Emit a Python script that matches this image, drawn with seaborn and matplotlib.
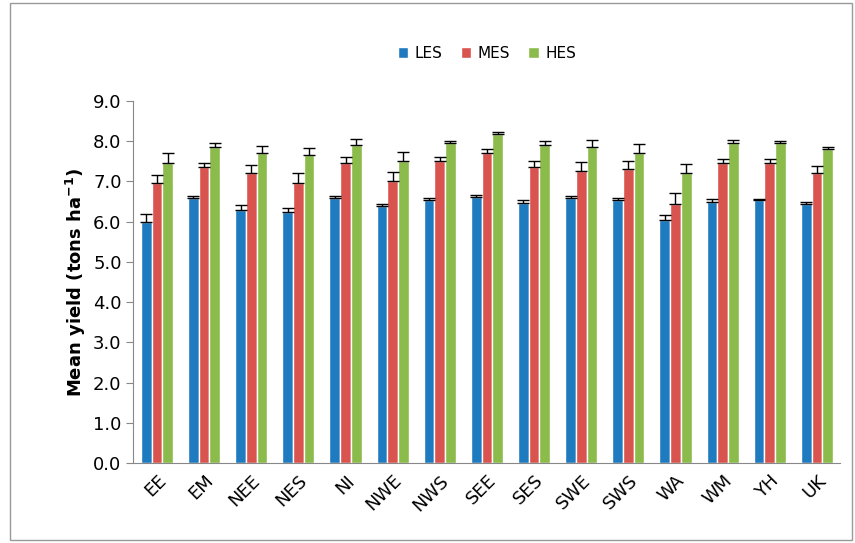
import numpy as np
import pandas as pd
import seaborn as sns
import matplotlib.pyplot as plt
from matplotlib.patches import Rectangle

regions = ["EE", "EM", "NEE", "NES", "NI", "NWE", "NWS", "SEE", "SES", "SWE", "SWS", "WA", "WM", "YH", "UK"]
les = [6.00, 6.60, 6.30, 6.25, 6.60, 6.40, 6.55, 6.62, 6.47, 6.60, 6.55, 6.05, 6.50, 6.55, 6.45]
mes = [6.95, 7.35, 7.20, 6.95, 7.45, 7.00, 7.50, 7.72, 7.35, 7.25, 7.30, 6.45, 7.45, 7.45, 7.20]
hes = [7.45, 7.85, 7.70, 7.65, 7.90, 7.50, 7.95, 8.18, 7.90, 7.85, 7.70, 7.20, 7.95, 7.95, 7.80]
les_err = [0.20, 0.05, 0.12, 0.10, 0.05, 0.05, 0.05, 0.05, 0.08, 0.05, 0.05, 0.12, 0.07, 0.02, 0.05]
mes_err = [0.20, 0.10, 0.22, 0.27, 0.15, 0.23, 0.10, 0.08, 0.15, 0.23, 0.20, 0.27, 0.10, 0.10, 0.18]
hes_err = [0.25, 0.10, 0.18, 0.18, 0.15, 0.23, 0.05, 0.05, 0.10, 0.18, 0.23, 0.23, 0.08, 0.05, 0.05]

df = pd.DataFrame({
    "Region": regions * 3,
    "Group": ["LES"] * 15 + ["MES"] * 15 + ["HES"] * 15,
    "Yield": les + mes + hes,
})
errs = les_err + mes_err + hes_err

sns.set_style("white")
plt.rcParams["text.color"] = "black"
plt.rcParams["xtick.color"] = "black"
plt.rcParams["ytick.color"] = "black"
plt.rcParams["axes.labelcolor"] = "black"
fig = plt.figure(figsize=(8.55, 5.43), dpi=100)
ax = fig.add_axes([0.156, 0.147, 0.827, 0.667])
colors = ["#1f7bbf", "#d9534f", "#8bbb4a"]
sns.barplot(data=df, x="Region", y="Yield", hue="Group", palette=colors,
            width=0.68, ax=ax, saturation=1)

# error bars (upper only)
bars = [p for p in ax.patches if p.get_height() > 0]
for p, e in zip(bars, errs):
    xc = p.get_x() + p.get_width() / 2
    ax.errorbar(xc, p.get_height(), yerr=[[0], [e]], fmt="none", ecolor="black",
                elinewidth=1, capsize=4, capthick=1)

ax.set_ylim(0, 9)
ax.set_yticks(np.arange(0, 9.1, 1))
ax.set_yticklabels([f"{v:.1f}" for v in np.arange(0, 9.1, 1)], fontsize=13)
ax.set_xlim(-0.5, len(regions) - 0.5)
ax.set_xticks(np.arange(len(regions)))
ax.set_xticklabels(regions, rotation=45, ha="right", rotation_mode="anchor", fontsize=13)
ax.tick_params(axis="x", length=0, pad=6)
ax.set_xticks(np.arange(len(regions) + 1) - 0.5, minor=True)
ax.tick_params(axis="x", which="minor", length=6, color="#888888", direction="out")
ax.tick_params(axis="y", length=5, color="#888888", direction="out", left=True)
ax.set_xlabel("")
ax.set_ylabel("Mean yield (tons ha$^{\\mathbf{-1}}$)", fontsize=13, fontweight="bold")
for s in ["top", "right"]:
    ax.spines[s].set_visible(False)
for s in ["left", "bottom"]:
    ax.spines[s].set_color("#888888")

ax.legend(loc="upper center", bbox_to_anchor=(0.5, 1.19), ncol=3, frameon=False,
          fontsize=11, handlelength=0.7, handleheight=0.7, columnspacing=1.2, handletextpad=0.4)

fig.patches.append(Rectangle((0.012, 0.005), 0.985, 0.99, transform=fig.transFigure,
                             fill=False, edgecolor="#999999", linewidth=1))
fig.savefig("out.png", dpi=100)
